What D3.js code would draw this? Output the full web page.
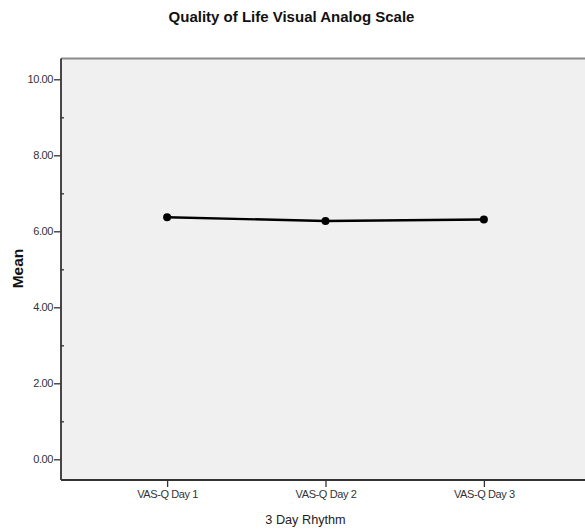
<!DOCTYPE html>
<html><head><meta charset="utf-8">
<script src="https://cdn.jsdelivr.net/npm/d3@7"></script>
<style>html,body{margin:0;background:#fff;overflow:hidden}svg{display:block}text{font-family:"Liberation Sans",Arial,sans-serif}</style>
</head><body>
<script>
const categories = ["VAS-Q Day 1", "VAS-Q Day 2", "VAS-Q Day 3"];
const meanValues = [6.37, 6.27, 6.31];
const yTicks = [0, 2, 4, 6, 8, 10];
const yMinorTicks = [1, 3, 5, 7, 9];
const title = "Quality of Life Visual Analog Scale";
const xTitle = "3 Day Rhythm";
const yTitle = "Mean";

const W = 585, H = 531;
const pLeft = 61, pTop = 58.5, pBottom = 480, pRight = 590;
const svg = d3.select("body").append("svg").attr("width", W).attr("height", H);

const x = d3.scalePoint().domain(categories).range([pLeft, pRight]).padding(0.67);
const y = d3.scaleLinear().domain([0, 10]).range([459.3, 79.3]);

svg.append("rect").attr("x", pLeft).attr("y", pTop).attr("width", W - pLeft).attr("height", pBottom - pTop).attr("fill", "#f0f0f0");
svg.append("line").attr("x1", pLeft).attr("x2", W).attr("y1", pTop).attr("y2", pTop).attr("stroke", "#8a8a8a").attr("stroke-width", 1.8);

svg.append("text").attr("x", 291.5).attr("y", 22).attr("text-anchor", "middle").attr("font-size", 15).attr("font-weight", "bold").attr("fill", "#111").text(title);

// y axis
const yAxis = d3.axisLeft(y).tickValues(yTicks).tickFormat(d3.format(".2f")).tickSize(7).tickPadding(1);
const gy = svg.append("g").attr("transform", `translate(${pLeft},0)`).call(yAxis);
gy.select(".domain").remove();
gy.selectAll(".tick line").attr("stroke", "#333").attr("stroke-width", 1.3);
gy.selectAll(".tick text").attr("font-size", 11).attr("letter-spacing", "-0.4px").attr("fill", "#333").attr("font-family", "Liberation Sans, Arial, sans-serif");
const gyMinor = svg.append("g").attr("transform", `translate(${pLeft},0)`).call(d3.axisRight(y).tickValues(yMinorTicks).tickSize(3).tickFormat(""));
gyMinor.select(".domain").remove();
gyMinor.selectAll(".tick line").attr("stroke", "#333").attr("stroke-width", 1.3);
svg.append("line").attr("x1", pLeft).attr("x2", pLeft).attr("y1", pTop).attr("y2", pBottom).attr("stroke", "#333").attr("stroke-width", 1.8);

// x axis
const xAxis = d3.axisBottom(x).tickSize(7).tickPadding(3);
const gx = svg.append("g").attr("transform", `translate(0,${pBottom})`).call(xAxis);
gx.select(".domain").remove();
gx.selectAll(".tick line").attr("stroke", "#333").attr("stroke-width", 1.3);
gx.selectAll(".tick text").attr("font-size", 11).attr("letter-spacing", "-0.4px").attr("fill", "#333").attr("font-family", "Liberation Sans, Arial, sans-serif");
svg.append("line").attr("x1", pLeft).attr("x2", W).attr("y1", pBottom).attr("y2", pBottom).attr("stroke", "#333").attr("stroke-width", 1.8);

svg.append("text").attr("x", 305.5).attr("y", 523.5).attr("text-anchor", "middle").attr("font-size", 12.7).attr("fill", "#222").text(xTitle);
svg.append("text").attr("transform", "translate(22.5,268.5) rotate(-90)").attr("text-anchor", "middle").attr("font-size", 15.5).attr("font-weight", "bold").attr("fill", "#111").text(yTitle);

// line + points
const data = categories.map((c, i) => ({c, v: meanValues[i]}));
svg.append("path").datum(data).attr("fill", "none").attr("stroke", "#000").attr("stroke-width", 2.4)
  .attr("d", d3.line().x(d => x(d.c)).y(d => y(d.v)));
svg.selectAll("circle.pt").data(data).enter().append("circle").attr("class", "pt")
  .attr("cx", d => x(d.c)).attr("cy", d => y(d.v)).attr("r", 4).attr("fill", "#000");
</script>
</body></html>
